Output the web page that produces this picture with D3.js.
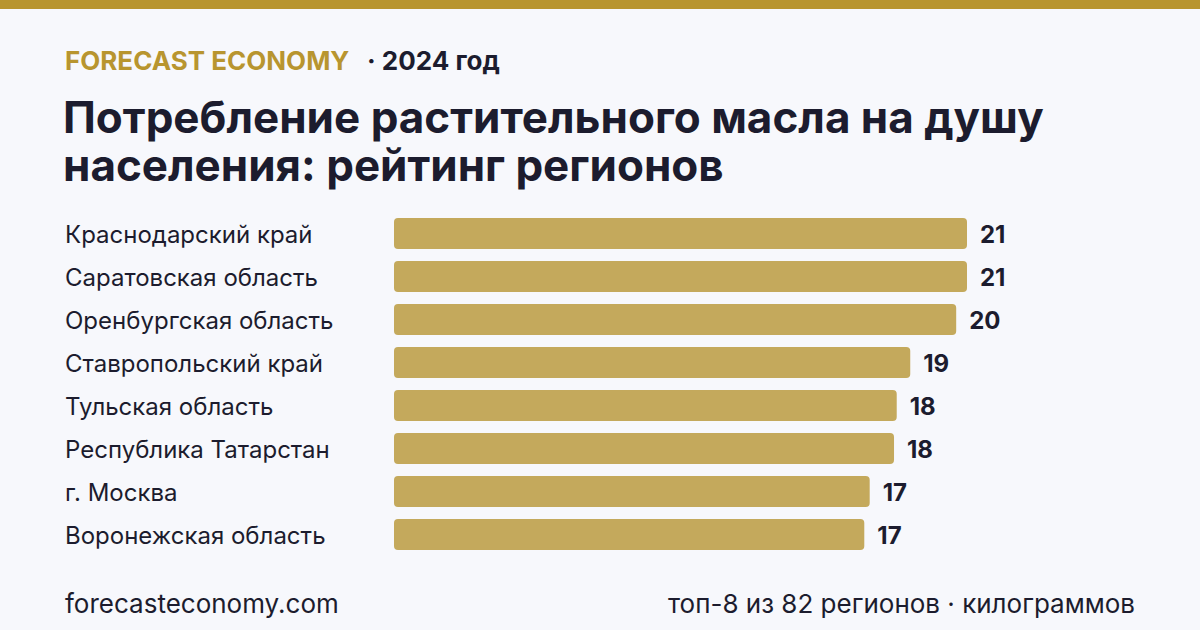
<!DOCTYPE html>
<html>
<head>
<meta charset="utf-8">
<script src="https://cdn.jsdelivr.net/npm/d3@7"></script>
<style>
  html, body { margin: 0; padding: 0; background: #f7f8fc; }
  svg { display: block; font-family: Inter, "Noto Sans", sans-serif; }
</style>
</head>
<body>
<script>
// data
const regions = [
    "Краснодарский край",
    "Саратовская область",
    "Оренбургская область",
    "Ставропольский край",
    "Тульская область",
    "Республика Татарстан",
    "г. Москва",
    "Воронежская область"
];
// kg per person
const values = [21.2, 21.2, 20.8, 19.1, 18.6, 18.5, 17.6, 17.4];

const width = 1200;
const height = 630;
const gold = "#b8952f";
const barColor = "#c4a95c";
const ink = "#1c1c2e";

const data = regions.map((name, i) => ({ name, value: values[i] }));

const svg = d3.select("body").append("svg")
    .attr("width", width)
    .attr("height", height);

svg.append("rect")
    .attr("width", width)
    .attr("height", height)
    .attr("fill", "#f7f8fc");

// top stripe
svg.append("rect")
    .attr("width", width)
    .attr("height", 9)
    .attr("fill", gold);

// header
const head = svg.append("text")
    .attr("x", 65)
    .attr("y", 70)
    .style("font-size", "26px")
    .style("font-weight", 700);
head.append("tspan").attr("fill", gold).text("FORECAST ECONOMY");
head.append("tspan").attr("fill", ink).attr("x", 367).text("· 2024 год");

// title
const title = svg.append("text")
    .attr("fill", ink)
    .style("font-size", "44px")
    .style("font-weight", 700);
title.append("tspan").attr("x", 63).attr("y", 133).text("Потребление растительного масла на душу");
title.append("tspan").attr("x", 63).attr("y", 181).text("населения: рейтинг регионов");

// scales
const x = d3.scaleLinear()
    .domain([0, d3.max(values)])
    .range([394, 967]);

const y = d3.scaleBand()
    .domain(regions)
    .range([218, 550])
    .paddingInner(0.279)
    .paddingOuter(0);

// bars
svg.append("g")
    .selectAll("rect")
    .data(data)
    .join("rect")
    .attr("x", x(0))
    .attr("y", d => y(d.name))
    .attr("width", d => x(d.value) - x(0))
    .attr("height", y.bandwidth())
    .attr("rx", 4)
    .attr("fill", barColor);

// region names
svg.append("g")
    .selectAll("text")
    .data(data)
    .join("text")
    .attr("x", 65)
    .attr("y", d => y(d.name) + y.bandwidth() / 2)
    .attr("dy", "0.4em")
    .attr("fill", ink)
    .style("font-size", "24px")
    .text(d => d.name);

// value labels
svg.append("g")
    .selectAll("text")
    .data(data)
    .join("text")
    .attr("x", d => x(d.value) + 13)
    .attr("y", d => y(d.name) + y.bandwidth() / 2)
    .attr("dy", "0.4em")
    .attr("fill", ink)
    .style("font-size", "24px")
    .style("font-weight", 700)
    .text(d => Math.floor(d.value));

// footer
svg.append("text")
    .attr("x", 65)
    .attr("y", 613)
    .attr("fill", ink)
    .style("font-size", "26px")
    .text("forecasteconomy.com");

svg.append("text")
    .attr("x", 1135)
    .attr("y", 613)
    .attr("text-anchor", "end")
    .attr("fill", ink)
    .style("font-size", "26px")
    .text("топ-8 из 82 регионов · килограммов");
</script>
</body>
</html>
